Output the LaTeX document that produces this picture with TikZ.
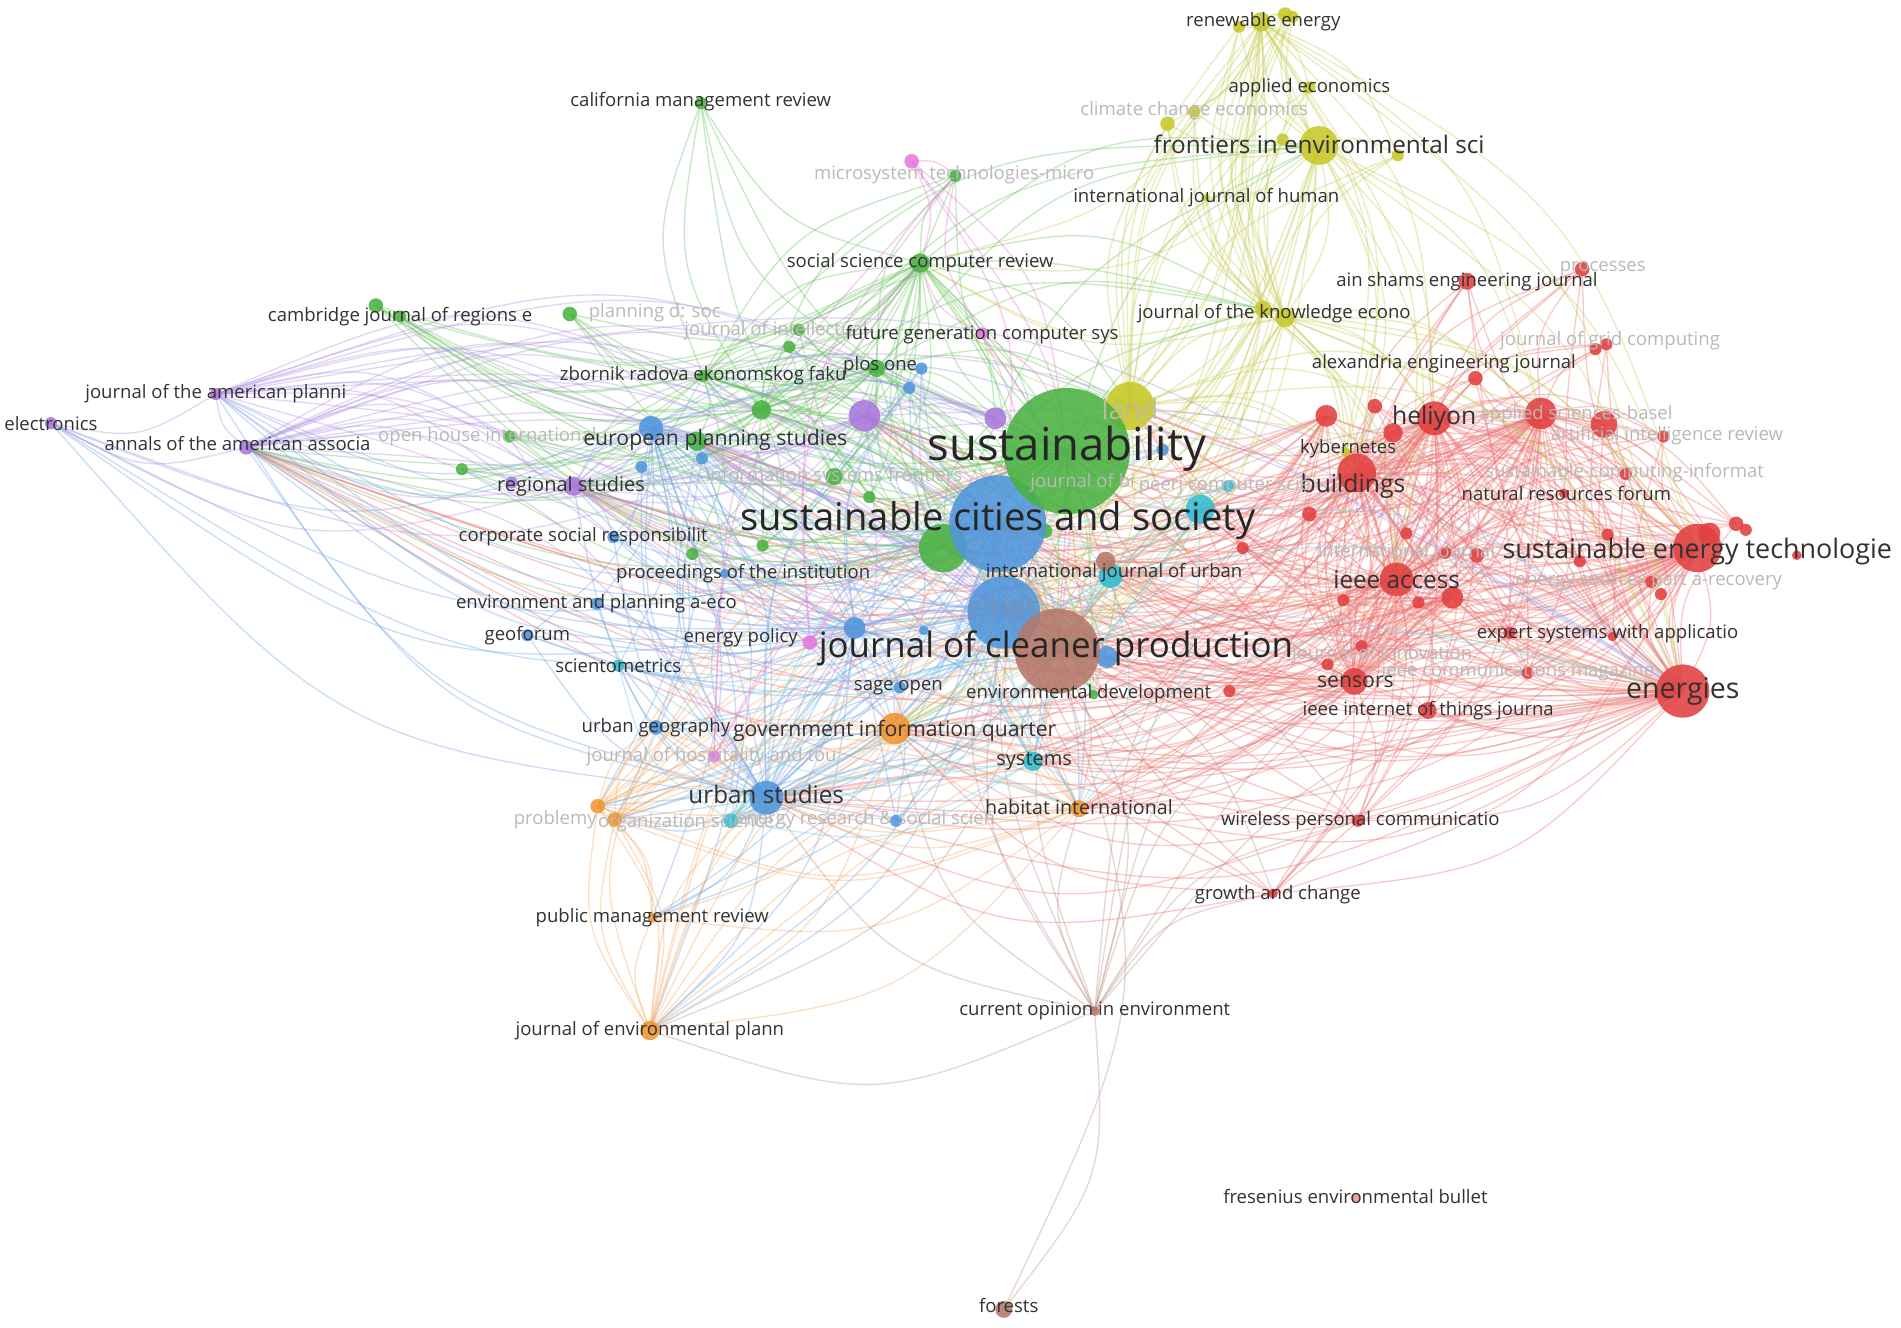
\documentclass[tikz,border=0pt]{standalone}
\usepackage{fontspec}
\setmainfont{Open Sans}
\usetikzlibrary{calc}
\pgfdeclarelayer{bgfill}
\pgfdeclarelayer{edges}
\pgfdeclarelayer{labels}
\pgfsetlayers{bgfill,edges,main,labels}
\definecolor{cR}{RGB}{226,64,64}
\definecolor{cRe}{RGB}{238,110,110}
\definecolor{cG}{RGB}{74,178,66}
\definecolor{cGe}{RGB}{100,195,90}
\definecolor{cB}{RGB}{80,150,220}
\definecolor{cBe}{RGB}{110,165,230}
\definecolor{cY}{RGB}{200,200,40}
\definecolor{cYe}{RGB}{195,205,80}
\definecolor{cP}{RGB}{170,120,220}
\definecolor{cPe}{RGB}{175,145,230}
\definecolor{cC}{RGB}{50,190,210}
\definecolor{cCe}{RGB}{110,205,220}
\definecolor{cO}{RGB}{240,150,50}
\definecolor{cOe}{RGB}{245,170,100}
\definecolor{cBr}{RGB}{180,120,105}
\definecolor{cBre}{RGB}{190,145,135}
\definecolor{cPk}{RGB}{230,120,220}
\definecolor{cFr}{RGB}{238,150,150}
\definecolor{labc}{RGB}{50,50,50}
\definecolor{fadec}{RGB}{185,185,185}
\definecolor{citc}{RGB}{120,145,180}
\tikzset{
  dot/.style={circle, inner sep=0pt, draw=none, fill opacity=0.88},
  lab/.style={inner sep=0pt, text=labc, font=\fontsize{15.3}{17}\selectfont},
  faded/.style={lab, text=fadec},
  edge/.style={draw=#1, line width=0.28pt, draw opacity=0.36},
}
\newcommand\JN[5]{\node[dot, fill=#5, minimum size=#4*2pt] (#1) at (#2,#3) {};}
\newcommand\JL[5]{\node[#4] (l#1) at (#2,#3) {#5};}
\newcommand\EG[3]{\draw[edge=#1] (#2.center) .. controls ($(#2.center)!0.5!(#3.center)!0.38!90:(#3.center)$) .. (#3.center);}
\begin{document}
\begin{tikzpicture}[x=1pt,y=-1pt,scale=0.25,every node/.append style={transform shape}]
\begin{pgfonlayer}{bgfill}
\fill[white] (0,0) rectangle (1568,1095);
\end{pgfonlayer}
\useasboundingbox (0,0) rectangle (1568,1095);
% ---------- yellow
\JN{re1}{1040}{18}{8}{cY}\JN{re2}{1022}{22}{5}{cY}\JN{re3}{1060}{12}{6}{cY}\JN{re4}{1066}{14}{5}{cY}
\JN{ae}{1080}{72}{5}{cY}\JN{cce}{985}{92}{5}{cY}\JN{cce2}{963}{102}{6}{cY}
\JN{fes}{1088}{120}{16}{cY}\JN{fes2}{1058}{115}{5}{cY}\JN{fes3}{1153}{128}{5}{cY}
\JN{ijh}{995}{163}{3}{cY}\JN{jke}{1042}{255}{7}{cY}\JN{jke2}{1060}{262}{8}{cY}
\JN{land}{932}{335}{20}{cY}\JN{kyb}{1110}{373}{4}{cY}
% ---------- green
\JN{cmr}{578}{85}{5}{cG}\JN{mtm}{788}{145}{5}{cG}\JN{sscr}{759}{217}{8}{cG}
\JN{cjr}{330}{261}{5}{cG}\JN{cjr2}{310}{252}{6}{cG}\JN{pds}{470}{259}{6}{cG}
\JN{jic}{659}{272}{5}{cG}\JN{jic2}{651}{286}{5}{cG}\JN{zrf}{580}{310}{5}{cG}
\JN{plos}{723}{304}{7}{cG}\JN{g1}{628}{338}{8}{cG}\JN{ohi}{420}{360}{5}{cG}
\JN{g2}{381}{387}{5}{cG}\JN{eps}{575}{364}{8}{cG}\JN{isf}{688}{393}{7}{cG}
\JN{g4}{717}{410}{5}{cG}\JN{g7}{571}{457}{5}{cG}\JN{g8}{629}{450}{5}{cG}
\JN{ed}{902}{573}{4}{cG}
% ---------- blue
\JN{b2}{760}{304}{5}{cB}\JN{b3}{750}{320}{5}{cB}\JN{b1}{537}{353}{10}{cB}
\JN{b4}{529}{385}{5}{cB}\JN{b5}{579}{378}{5}{cB}\JN{b6}{959}{371}{5}{cB}
\JN{csr}{506}{443}{5}{cB}\JN{poi}{598}{473}{4}{cB}\JN{epa}{492}{498}{5}{cB}
\JN{b7}{913}{542}{9}{cB}\JN{b8}{705}{518}{9}{cB}\JN{geo}{435}{524}{5}{cB}
\JN{sage}{742}{567}{5}{cB}\JN{ug}{541}{600}{6}{cB}\JN{us}{632}{658}{14}{cB}
\JN{b10}{739}{677}{5}{cB}\JN{b11}{762}{520}{4}{cB}
% ---------- purple
\JN{jap}{178}{325}{5}{cP}\JN{elec}{42}{349}{5}{cP}\JN{aaa}{203}{369}{6}{cP}
\JN{rs}{473}{401}{8}{cP}\JN{rs2}{422}{398}{5}{cP}\JN{p1}{713}{343}{13}{cP}\JN{p2}{821}{345}{9}{cP}
% ---------- cyan
\JN{pcs}{1013}{401}{5}{cC}\JN{c1}{990}{420}{12}{cC}\JN{iju}{916}{475}{10}{cC}
\JN{scim}{510}{549}{5}{cC}\JN{sys}{852}{628}{8}{cC}\JN{c2}{603}{677}{6}{cC}
% ---------- orange
\JN{giq}{738}{601}{13}{cO}\JN{hi}{890}{667}{7}{cO}\JN{o1}{493}{665}{6}{cO}
\JN{o2}{507}{676}{6}{cO}\JN{pmr}{538}{757}{4}{cO}\JN{jep}{536}{850}{8}{cO}
% ---------- pink
\JN{mtp}{752}{133}{6}{cPk}\JN{fgc}{810}{275}{5}{cPk}\JN{pk1}{668}{530}{6}{cPk}\JN{jht}{589}{624}{5}{cPk}
% ---------- red
\JN{asej}{1210}{232}{7}{cR}\JN{proc}{1305}{222}{6}{cR}\JN{jgc1}{1325}{284}{5}{cR}\JN{jgc2}{1316}{288}{5}{cR}
\JN{aej}{1217}{312}{6}{cR}\JN{r1}{1094}{343}{9}{cR}\JN{r2}{1134}{335}{6}{cR}\JN{r3}{1149}{357}{8}{cR}
\JN{hel}{1183}{345}{14}{cR}\JN{asb}{1271}{341}{13}{cR}\JN{asb2}{1323}{350}{11}{cR}\JN{air}{1372}{360}{5}{cR}
\JN{bld}{1119}{390}{16}{cR}\JN{sci}{1341}{391}{5}{cR}\JN{nrf}{1290}{407}{4}{cR}\JN{r4}{1080}{424}{6}{cR}
\JN{r5}{1160}{440}{5}{cR}\JN{r6}{1326}{441}{5}{cR}\JN{r7}{1303}{463}{5}{cR}\JN{r8}{1192}{456}{5}{cR}
\JN{r13}{1218}{458}{6}{cR}\JN{r9}{1025}{452}{5}{cR}
\JN{set}{1400}{452}{20}{cR}\JN{set2}{1410}{440}{9}{cR}\JN{set3}{1432}{432}{6}{cR}\JN{set4}{1440}{437}{5}{cR}\JN{set5}{1482}{458}{4}{cR}
\JN{ieee}{1152}{478}{14}{cR}\JN{r10}{1108}{495}{5}{cR}\JN{r11}{1170}{497}{5}{cR}\JN{r12}{1198}{493}{9}{cR}
\JN{esp}{1362}{480}{5}{cR}\JN{esp2}{1370}{490}{5}{cR}\JN{esa}{1245}{522}{5}{cR}\JN{esa2}{1330}{525}{4}{cR}
\JN{joi}{1123}{533}{5}{cR}\JN{joi2}{1095}{548}{5}{cR}\JN{icm}{1260}{555}{5}{cR}
\JN{sen}{1117}{562}{11}{cR}\JN{iot}{1178}{586}{7}{cR}\JN{en}{1388}{570}{22}{cR}
\JN{ed2}{1014}{570}{5}{cR}\JN{wpc}{1120}{677}{5}{cR}\JN{gac}{1050}{737}{4}{cR}
\JN{feb}{1118}{988}{4}{cFr}
% ---------- big nodes
\JN{g5}{778}{452}{20}{cG}\JN{g6}{862}{438}{6}{cG}
\JN{br1}{912}{463}{8}{cBr}\JN{coe}{903}{834}{4}{cBr}\JN{for}{828}{1080}{7}{cBr}
\JN{cit}{828}{505}{30}{cB}
\JN{jcp}{872}{537}{35}{cBr}
\JN{scs}{823}{432}{40}{cB}
\JN{sus}{880}{372}{52}{cG}
% ================= edges
\begin{pgfonlayer}{edges}
\foreach \src in {en,set,ieee,bld,hel,sen,asb}{
 \foreach \tgt in {asej,proc,jgc1,aej,r1,r2,r3,asb2,air,sci,nrf,r4,r5,r6,r7,r8,r13,r9,r10,r11,r12,esp,esa,esa2,joi,joi2,icm,iot,ed2,wpc,gac,set2,set3,kyb,en,set,ieee,bld,hel,sen,asb}{
  \ifx\src\tgt\else\EG{cRe}{\src}{\tgt}\fi}}
\foreach \src in {en,set,ieee,bld,hel,sen,asb,r1,r12}{
 \foreach \tgt in {sus,scs,jcp,cit,land,c1,iju,giq,us,hi,eps,rs,p1,g5,aaa,sys,b7,br1}{
  \EG{cRe}{\src}{\tgt}}}
\foreach \src in {sus,g5,sscr,g1,zrf,plos}{
 \foreach \tgt in {cmr,mtm,sscr,cjr,cjr2,pds,jic,jic2,zrf,plos,g1,ohi,g2,eps,isf,g4,g6,g7,g8,ed,scs,cit,jcp,rs,aaa,land,fes,jke,p1,p2}{
  \ifx\src\tgt\else\EG{cGe}{\src}{\tgt}\fi}}
\foreach \src in {scs,cit,us,b1,b8}{
 \foreach \tgt in {b2,b3,b4,b5,b6,csr,poi,epa,b7,b8,geo,sage,ug,us,b10,b11,eps,rs,giq,scim,c2,hi,sys,jcp,sus,aaa,jap,elec,o1,o2,pmr,jep,b1}{
  \ifx\src\tgt\else\EG{cBe}{\src}{\tgt}\fi}}
\foreach \src in {fes,jke,land,re1,jke2}{
 \foreach \tgt in {re1,re2,re3,re4,ae,cce,cce2,fes2,fes3,ijh,jke2,kyb,sus,scs,jcp,cit,hel,bld,en,set,sscr,g5,giq,ieee,asb}{
  \ifx\src\tgt\else\EG{cYe}{\src}{\tgt}\fi}}
\foreach \src in {aaa,rs,p1,jap}{
 \foreach \tgt in {jap,elec,rs,rs2,p2,scs,sus,jcp,cit,us,eps,g1,zrf,csr,ohi,en,giq,b1}{
  \ifx\src\tgt\else\EG{cPe}{\src}{\tgt}\fi}}
\foreach \src in {giq,jep,hi,o1,o2}{
 \foreach \tgt in {o1,o2,pmr,jep,us,scs,jcp,cit,sus,hi,sys,ug,en,giq}{
  \ifx\src\tgt\else\EG{cOe}{\src}{\tgt}\fi}}
\foreach \src in {jcp,coe}{
 \foreach \tgt in {coe,for,en,set,ieee,hel,sus,scs,cit,us,giq,hi,wpc,gac,br1,jep,sen,bld}{
  \ifx\src\tgt\else\EG{cBre}{\src}{\tgt}\fi}}
\foreach \src in {c1,iju,sys,c2}{
 \foreach \tgt in {pcs,scim,c2,scs,sus,jcp,cit,en,us,giq,hi}{
  \ifx\src\tgt\else\EG{cCe}{\src}{\tgt}\fi}}
\foreach \src in {mtp,fgc,pk1,jht}{
 \foreach \tgt in {sus,scs,sscr,jcp,mtm}{
  \EG{cPk}{\src}{\tgt}}}
\foreach \src in {wpc,gac}{
 \foreach \tgt in {scs,sus,cit,us,giq}{
  \EG{cRe}{\src}{\tgt}}}
\end{pgfonlayer}
% ================= labels
\begin{pgfonlayer}{labels}
\JL{re}{1042}{18}{lab}{renewable energy}
\JL{ae}{1080}{72}{lab}{applied economics}
\JL{cce}{985}{91}{faded}{climate change economics}
\JL{fes}{1088}{119}{lab,font=\fontsize{20}{22}\selectfont}{frontiers in environmental sci}
\JL{mtm}{787}{144}{faded}{microsystem technologies-micro}
\JL{ijh}{995}{163}{lab}{international journal of human}
\JL{cmr}{578}{84}{lab}{california management review}
\JL{sscr}{759}{217}{lab}{social science computer review}
\JL{asej}{1210}{232}{lab}{ain shams engineering journal}
\JL{proc}{1322}{222}{faded}{processes}
\JL{cjr}{330}{261}{lab}{cambridge journal of regions e}
\JL{pds}{540}{258}{faded}{planning d: soc}
\JL{jke}{1051}{259}{lab}{journal of the knowledge econo}
\JL{jic}{640}{273}{faded}{journal of intellectual}
\JL{fgc}{810}{276}{lab}{future generation computer sys}
\JL{jgc}{1328}{281}{faded}{journal of grid computing}
\JL{aej}{1191}{300}{lab}{alexandria engineering journal}
\JL{zrf}{580}{310}{lab}{zbornik radova ekonomskog faku}
\JL{plos}{726}{302}{lab}{plos one}
\JL{jap}{178}{325}{lab}{journal of the american planni}
\JL{elec}{42}{349}{lab}{electronics}
\JL{asb}{1300}{342}{faded}{applied sciences-basel}
\JL{hel}{1183}{345}{lab,font=\fontsize{20.4}{22}\selectfont}{heliyon}
\JL{land}{932}{337}{lab,text=fadec!80!cY,font=\fontsize{23}{25}\selectfont}{land}
\JL{ohi}{402}{360}{faded}{open house international}
\JL{eps}{590}{363}{lab,font=\fontsize{17.5}{19}\selectfont}{european planning studies}
\JL{aaa}{196}{366}{lab}{annals of the american associa}
\JL{air}{1375}{359}{faded}{artificial intelligence review}
\JL{kyb}{1112}{370}{lab}{kybernetes}
\JL{isf}{688}{393}{faded}{information systems frontiers}
\JL{sci}{1340}{390}{faded}{sustainable-computing-informat}
\JL{rs}{471}{401}{lab,font=\fontsize{16.5}{18}\selectfont}{regional studies}
\JL{bld}{1116}{401}{lab,font=\fontsize{20.4}{22}\selectfont}{buildings}
\JL{jbi}{893}{398}{faded}{journal of bi}
\JL{pcs}{1010}{401}{faded}{peerj computer scie}
\JL{nrf}{1292}{407}{lab}{natural resources forum}
\JL{sus}{880}{370}{lab,text=black!85,font=\fontsize{37.5}{40}\selectfont}{sustainability}
\JL{csr}{481}{443}{lab}{corporate social responsibilit}
\JL{ijx}{1160}{456}{faded}{international journal}
\JL{poi}{613}{473}{lab}{proceedings of the institution}
\JL{iju}{919}{472}{lab}{international journal of urban}
\JL{ieee}{1152}{478}{lab,font=\fontsize{20}{22}\selectfont}{ieee access}
\JL{esp}{1360}{480}{faded}{energy sources part a-recovery}
\JL{epa}{492}{498}{lab}{environment and planning a-eco}
\JL{cit}{828}{500}{lab,text=citc,font=\fontsize{25}{27}\selectfont}{cities}
\JL{scs}{823}{429}{lab,text=black!85,font=\fontsize{31.5}{34}\selectfont}{sustainable cities and society}
\JL{set}{1400}{455}{lab,font=\fontsize{22.2}{24}\selectfont}{sustainable energy technologie}
\JL{esa}{1326}{523}{lab}{expert systems with applicatio}
\JL{geo}{435}{524}{lab}{geoforum}
\JL{ep}{611}{526}{lab}{energy policy}
\JL{jcp}{871}{535}{lab,text=black!85,font=\fontsize{28.8}{31}\selectfont}{journal of cleaner production}
\JL{joi}{1140}{540}{faded}{journal of innovation}
\JL{icm}{1252}{554}{faded}{ieee communications magazine}
\JL{scim}{510}{549}{lab}{scientometrics}
\JL{sen}{1118}{562}{lab,font=\fontsize{17.5}{19}\selectfont}{sensors}
\JL{sage}{741}{567}{lab}{sage open}
\JL{ed}{898}{572}{lab}{environmental development}
\JL{en}{1388}{570}{lab,font=\fontsize{23.5}{25}\selectfont}{energies}
\JL{iot}{1178}{586}{lab}{ieee internet of things journa}
\JL{ug}{541}{600}{lab}{urban geography}
\JL{giq}{738}{603}{lab,font=\fontsize{17.5}{19}\selectfont}{government information quarter}
\JL{jht}{587}{624}{faded}{journal of hospitality and tou}
\JL{sys}{853}{628}{lab,font=\fontsize{16.5}{18}\selectfont}{systems}
\JL{us}{632}{655}{lab,font=\fontsize{20}{22}\selectfont}{urban studies}
\JL{hi}{890}{666}{lab,font=\fontsize{16.2}{18}\selectfont}{habitat international}
\JL{wpc}{1122}{677}{lab}{wireless personal communicatio}
\JL{prob}{458}{676}{faded}{problemy}
\JL{org}{566}{679}{faded}{organization science}
\JL{ers}{714}{676}{faded}{energy research \& social scien}
\JL{gac}{1054}{738}{lab}{growth and change}
\JL{pmr}{538}{757}{lab}{public management review}
\JL{coe}{903}{834}{lab}{current opinion in environment}
\JL{jep}{536}{850}{lab}{journal of environmental plann}
\JL{feb}{1118}{987}{lab}{fresenius environmental bullet}
\JL{for}{832}{1077}{lab}{forests}
\end{pgfonlayer}
\end{tikzpicture}
\end{document}
